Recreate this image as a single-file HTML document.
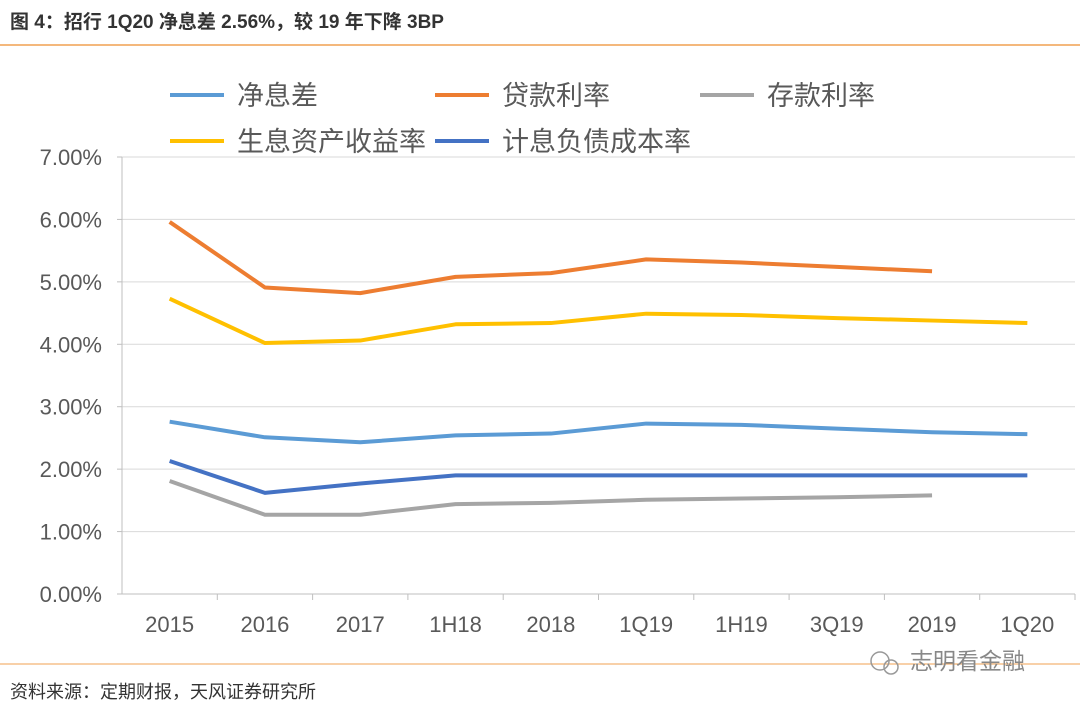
<!DOCTYPE html>
<html><head><meta charset="utf-8">
<style>
body{margin:0;background:#fff;width:1080px;height:707px;overflow:hidden;font-family:"Liberation Sans","Noto Sans CJK SC",sans-serif;}
</style></head>
<body>
<svg id="c" width="1080" height="707" xmlns="http://www.w3.org/2000/svg" font-family="Liberation Sans, Noto Sans CJK SC, sans-serif">
<text x="10" y="28" font-size="19" font-weight="bold" fill="#333">图 4：招行 1Q20 净息差 2.56%，较 19 年下降 3BP</text>
<line x1="0" y1="45" x2="1080" y2="45" stroke="#F0A050" stroke-width="1.5"/>
<line x1="0" y1="664" x2="1080" y2="664" stroke="#F0A050" stroke-width="1"/>
<text x="10" y="698" font-size="18" fill="#333">资料来源：定期财报，天风证券研究所</text>
<g>
<circle cx="880" cy="661" r="9" fill="none" stroke="#999" stroke-width="1.5"/>
<circle cx="891" cy="667" r="7" fill="none" stroke="#999" stroke-width="1.5"/>
<text x="910" y="669" font-size="23" fill="#888">志明看金融</text>
</g>
<g id="grid"></g><g id="axes"></g><g id="series"></g><g id="legend"></g>
</svg>
<script>
const categories=["2015","2016","2017","1H18","2018","1Q19","1H19","3Q19","2019","1Q20"];
const yTicks=[0,1,2,3,4,5,6,7];
const nim=[2.76,2.51,2.43,2.54,2.57,2.73,2.71,2.65,2.59,2.56];
const loanRate=[5.96,4.91,4.82,5.08,5.14,5.36,5.31,5.24,5.17,null];
const depositRate=[1.81,1.27,1.27,1.44,1.46,1.51,1.53,1.55,1.58,null];
const assetYield=[4.73,4.02,4.06,4.32,4.34,4.49,4.47,4.42,4.38,4.34];
const costRate=[2.13,1.62,1.77,1.90,1.90,1.90,1.90,1.90,1.90,1.90];
const seriesNames=["净息差","贷款利率","存款利率","生息资产收益率","计息负债成本率"];
const NS="http://www.w3.org/2000/svg";
const x0=122,x1=1075,yBase=594,yTop=157;
const band=(x1-x0)/categories.length;
const X=i=>x0+band*(i+0.5);
const Y=v=>yBase-(v/7)*(yBase-yTop);
function mk(t,a,p){const e=document.createElementNS(NS,t);for(const k in a)e.setAttribute(k,a[k]);p.appendChild(e);return e;}
const grid=document.getElementById('grid'),axes=document.getElementById('axes'),ser=document.getElementById('series'),leg=document.getElementById('legend');
yTicks.forEach(v=>{
 if(v>0){const g=mk('line',{x1:x0,x2:x1,y1:Y(v),y2:Y(v),stroke:'#d9d9d9','stroke-width':1},grid);
 
 }
 const t=mk('text',{x:102,y:Y(v)+8,'font-size':22,fill:'#595959','text-anchor':'end'},axes);
 t.textContent=v.toFixed(2)+'%';
 
 
 const tk=mk('line',{x1:x0-5,x2:x0,y1:Y(v),y2:Y(v),stroke:'#bfbfbf'},axes);
 
 
});
const ya=mk('line',{x1:x0,x2:x0,y1:yTop,y2:yBase,stroke:'#bfbfbf'},axes);


const xa=mk('line',{x1:x0,x2:x1,y1:yBase,y2:yBase,stroke:'#bfbfbf'},axes);


categories.forEach((c,i)=>{
 const tk=mk('line',{x1:x0+band*(i+1),x2:x0+band*(i+1),y1:yBase,y2:yBase+6,stroke:'#bfbfbf'},axes);
 
 
 const t=mk('text',{x:X(i),y:632,'font-size':22,fill:'#595959','text-anchor':'middle'},axes);
 t.textContent=c;
 
 
});
const data=[nim,loanRate,depositRate,assetYield,costRate];
const colors=["#5B9BD5","#ED7D31","#A5A5A5","#FFC000","#4472C4"];
const keys=["nim","loan-rate","deposit-rate","asset-yield","cost-rate"];
data.forEach((d,s)=>{
 let pts=[];d.forEach((v,i)=>{if(v!=null)pts.push(X(i)+','+Y(v));});
 const p=mk('polyline',{points:pts.join(' '),fill:'none',stroke:colors[s],'stroke-width':4,'stroke-linejoin':'round'},ser);
 
 
});
const lpos=[[170,95],[435,95],[700,95],[170,141],[435,141]];
seriesNames.forEach((n,s)=>{
 const [lx,ly]=lpos[s];
 const g=mk('g',{},leg);
 
 
 mk('line',{x1:lx,x2:lx+54,y1:ly,y2:ly,stroke:colors[s],'stroke-width':4},g);
 const t=mk('text',{x:lx+67,y:ly+10,'font-size':27,fill:'#595959'},g);
 t.textContent=n;
});
</script>
</body></html>
